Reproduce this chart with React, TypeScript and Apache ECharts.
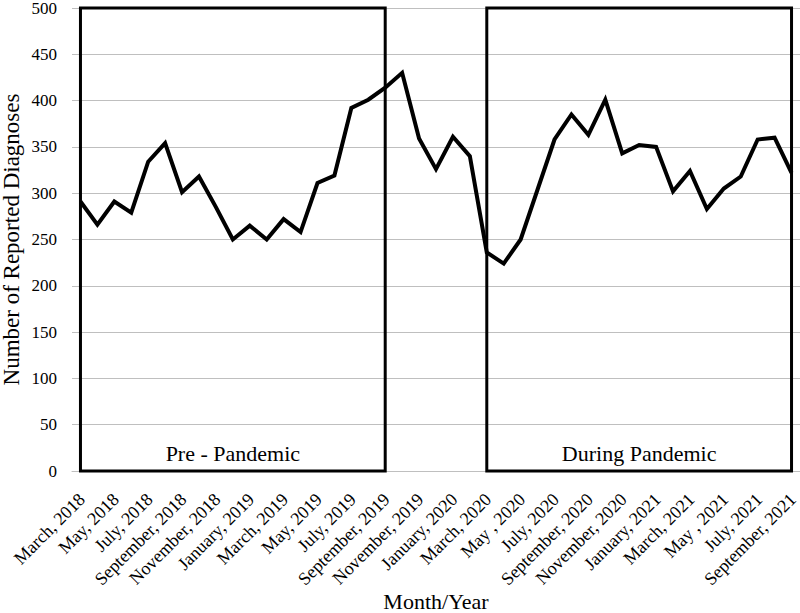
import React, { useEffect, useRef } from "react";
import * as echarts from "echarts";

const categories: string[] = [
  "March, 2018", "April, 2018", "May, 2018", "June, 2018", "July, 2018", "August, 2018",
  "September, 2018", "October, 2018", "November, 2018", "December, 2018", "January, 2019",
  "February, 2019", "March, 2019", "April, 2019", "May, 2019", "June, 2019", "July, 2019",
  "August, 2019", "September, 2019", "October, 2019", "November, 2019", "December, 2019",
  "January, 2020", "February, 2020", "March, 2020", "April, 2020", "May , 2020", "June, 2020",
  "July, 2020", "August, 2020", "September, 2020", "October, 2020", "November, 2020",
  "December, 2020", "January, 2021", "February, 2021", "March, 2021", "April, 2021",
  "May , 2021", "June, 2021", "July, 2021", "August, 2021", "September, 2021",
];

const diagnoses: number[] = [
  291, 266, 291, 279, 334, 354, 301, 318, 285, 250, 265, 250, 272, 258, 311, 319, 392, 401, 414,
  430, 359, 326, 361, 340, 236, 224, 250, 304, 358, 385, 363, 401, 343, 352, 350, 302, 324, 283,
  305, 318, 358, 360, 322,
];

const periodNames: string[] = ["Pre - Pandemic", "During Pandemic"];
const periodStarts: string[] = ["March, 2018", "March, 2020"];
const periodEnds: string[] = ["September, 2019", "September, 2021"];

const yMin = 0;
const yMax = 500;
const yStep = 50;

const FONT = "'Liberation Serif', 'Times New Roman', serif";

export default function App() {
  const ref = useRef<HTMLDivElement>(null);
  useEffect(() => {
    if (!ref.current) return;
    const chart = echarts.init(ref.current, undefined, { renderer: "svg" });
    chart.setOption({
      animation: false,
      backgroundColor: "#fff",
      grid: {
        left: 72,
        right: 0,
        top: 8,
        bottom: 142,
        containLabel: false,
        outerBoundsMode: "none",
      },
      xAxis: {
        type: "category",
        data: categories,
        boundaryGap: true,
        name: "Month/Year",
        nameLocation: "middle",
        nameGap: 119,
        nameMoveOverlap: false,
        nameTextStyle: { fontFamily: FONT, fontSize: 22, color: "#000" },
        axisLine: { show: true, lineStyle: { color: "#bfbfbf", width: 1 } },
        axisTick: { show: false },
        axisLabel: {
          interval: 1,
          rotate: 45,
          margin: 14,
          align: "right",
          verticalAlign: "top",
          padding: [0, 7, 0, 0],
          fontFamily: FONT,
          fontSize: 18,
          color: "#000",
        },
      },
      yAxis: {
        type: "value",
        min: yMin,
        max: yMax,
        interval: yStep,
        name: "Number of Reported Diagnoses",
        nameLocation: "middle",
        nameGap: 49,
        nameMoveOverlap: false,
        nameTextStyle: { fontFamily: FONT, fontSize: 23, color: "#000" },
        axisLine: { show: false },
        axisTick: { show: false },
        splitLine: { show: true, lineStyle: { color: "#bfbfbf", width: 1 } },
        axisLabel: { margin: 15, fontFamily: FONT, fontSize: 17, color: "#000" },
      },
      series: [
        {
          type: "line",
          data: diagnoses,
          symbol: "none",
          lineStyle: { color: "#000", width: 4, join: "miter" },
          markArea: {
            silent: true,
            itemStyle: { color: "rgba(0,0,0,0)", borderColor: "#000", borderWidth: 3 },
            label: {
              show: true,
              position: "insideBottom",
              distance: 8,
              fontFamily: FONT,
              fontSize: 22,
              color: "#000",
            },
            data: periodNames.map((n, i) => [
              { name: n, xAxis: periodStarts[i], yAxis: yMax },
              { xAxis: periodEnds[i], yAxis: yMin },
            ]),
          },
        },
      ],
    });
    return () => chart.dispose();
  }, []);
  return (
    <div
      ref={ref}
      style={{ position: "fixed", left: 0, top: 0, width: 800, height: 613 }}
    />
  );
}
